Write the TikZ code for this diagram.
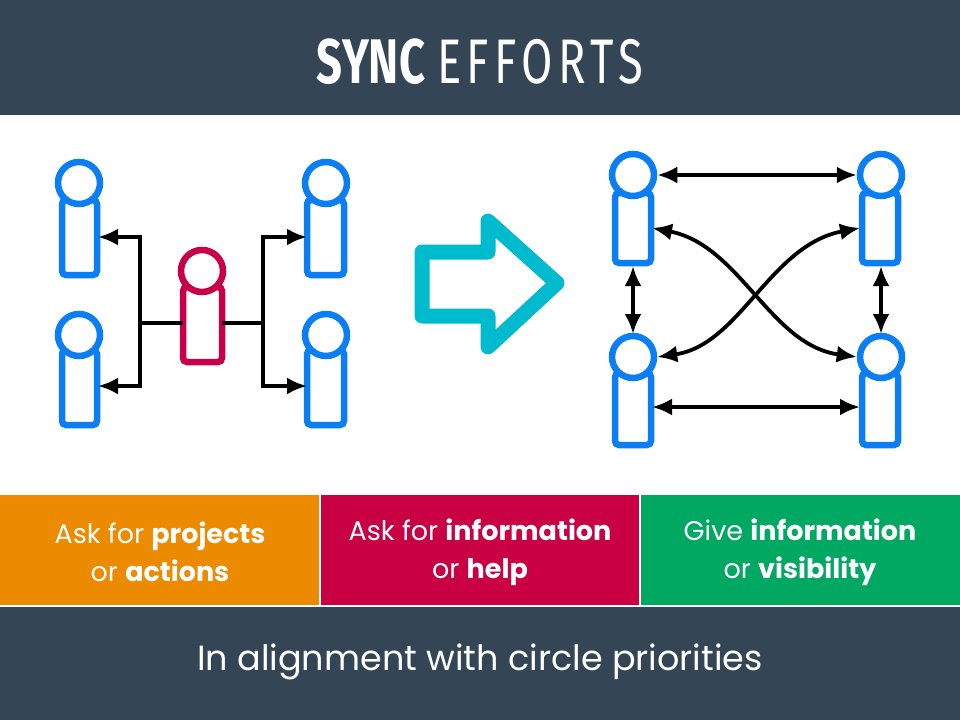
\documentclass[tikz,border=0pt]{standalone}
\usepackage{fontspec}
\setmainfont{Poppins}
\newfontfamily\titlefont{Fira Sans}
\usetikzlibrary{arrows.meta}
\definecolor{dark}{HTML}{344556}
\definecolor{pblue}{HTML}{0A7EF2}
\definecolor{pred}{HTML}{C8004A}
\definecolor{cyanA}{HTML}{00BACD}
\definecolor{orng}{HTML}{EC8A00}
\definecolor{crim}{HTML}{C90043}
\definecolor{grn}{HTML}{00A862}
\tikzset{
  x=1pt,y=-1pt,
  head/.style={circle,draw=#1,fill=white,line width=6.5pt,minimum size=42pt,inner sep=0pt},
  body/.style={draw=#1,fill=white,line width=6.5pt,rounded corners=4pt},
  conn/.style={line width=3.8pt,black},
  arr/.style={conn,-{Latex[length=20pt,width=17pt]}},
  darr/.style={conn,{Latex[length=20pt,width=17pt]}-{Latex[length=20pt,width=17pt]}},
  band/.style={white,font=\fontsize{27}{38}\selectfont,align=center},
}
\begin{document}
\begin{tikzpicture}
\useasboundingbox (0,0) rectangle (960,720);
\fill[white] (0,0) rectangle (960,720);
\fill[dark] (0,0) rectangle (960,115);
\node[white,font=\titlefont\fontsize{63}{70}\selectfont] (title) at (480,62) {\scalebox{0.72}[1]{\textbf{SYNC} \addfontfeature{LetterSpace=12}EFFORTS}};
% left people
\draw[body=pblue] (62,200) rectangle (97,275); \node[head=pblue] (p1) at (79,183) {};
\draw[body=pblue] (62,350) rectangle (97,425); \node[head=pblue] (p2) at (79,335) {};
\draw[body=pblue] (307,200) rectangle (344,275); \node[head=pblue] (p3) at (326,183) {};
\draw[body=pblue] (307,350) rectangle (344,425); \node[head=pblue] (p4) at (326,335) {};
\draw[body=pred] (183,287) rectangle (222,362); \node[head=pred] (c) at (202,271) {};
\coordinate (cl) at (183,323); \coordinate (cr) at (222,323);
\coordinate (jl) at (140,323); \coordinate (jr) at (263,323);
\coordinate (t1) at (98,237); \coordinate (t2) at (98,386);
\coordinate (t3) at (307,237); \coordinate (t4) at (307,386);
\draw[conn] (cl) -- (jl); \draw[conn] (cr) -- (jr);
\draw[arr] (jl) |- (t1); \draw[arr] (jl) |- (t2);
\draw[arr] (jr) |- (t3); \draw[arr] (jr) |- (t4);
% big arrow
\draw[cyanA,line width=15pt,line join=round] (422,252) -- (488,252) -- (488,221) -- (557,283) -- (488,347) -- (488,316) -- (422,316) -- cycle;
% right people
\draw[body=pblue] (615,193) rectangle (651,263); \node[head=pblue] (q1) at (633,175) {};
\draw[body=pblue] (615,373) rectangle (651,445); \node[head=pblue] (q2) at (633,357) {};
\draw[body=pblue] (862,193) rectangle (898,263); \node[head=pblue] (q3) at (881,175) {};
\draw[body=pblue] (862,373) rectangle (898,445); \node[head=pblue] (q4) at (881,357) {};
\coordinate (a1) at (652,228); \coordinate (a2) at (652,407);
\coordinate (a3) at (860,228); \coordinate (a4) at (860,407);
\coordinate (v1) at (633,266); \coordinate (v2) at (633,334);
\coordinate (v3) at (881,266); \coordinate (v4) at (881,334);
\draw[darr] (q1) -- (q3);
\draw[darr] (a2) -- (a4);
\draw[darr] (v1) -- (v2);
\draw[darr] (v3) -- (v4);
\draw[darr] (a1) .. controls (740,245) and (770,345) .. (q4.west);
\draw[darr] (a3) .. controls (770,245) and (740,345) .. (q2.east);
% bands
\fill[orng] (0,495) rectangle (319,605);
\fill[crim] (321,495) rectangle (639,605);
\fill[grn] (641,495) rectangle (960,605);
\node[band] (b1) at (160,552) {Ask for \textbf{projects}\\or \textbf{actions}};
\node[band] (b2) at (480,552) {Ask for \textbf{information}\\or \textbf{help}};
\node[band] (b3) at (800,552) {Give \textbf{information}\\or \textbf{visibility}};
\fill[dark] (0,607) rectangle (960,720);
\node[white,font=\fontsize{35}{40}\selectfont] (foot) at (480,662) {In alignment with circle priorities};
\end{tikzpicture}
\end{document}
